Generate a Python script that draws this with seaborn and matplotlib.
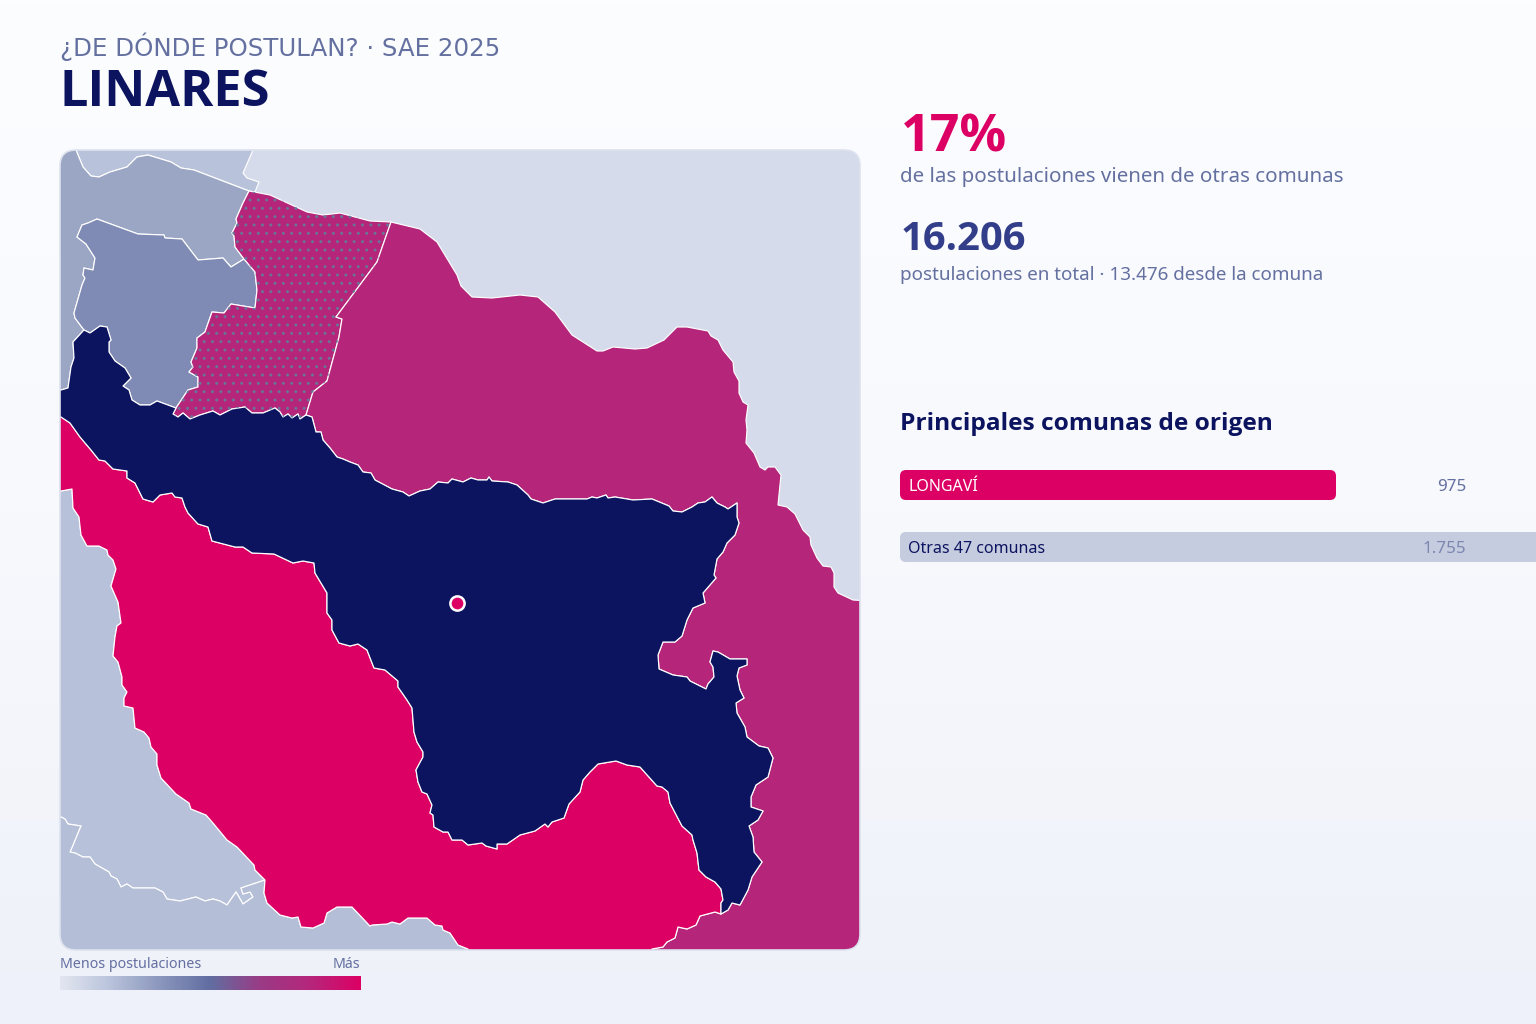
import numpy as np
import seaborn as sns
import matplotlib.pyplot as plt
from matplotlib.patches import FancyBboxPatch, Polygon

# figures from the right hand panel
origen_labels = ['LONGAVÍ', 'Otras 47 comunas']
origen_values = [975, 1755]
origen_colors = ['#DC0064', '#C6CCDF']
origen_text = ['#FFFFFF', '#0C1460']
value_text = ['#6470A0', '#7C87B0']
legend_stops = ['#E2E5F0', '#B8C2DA', '#8A96BC', '#616DA0', '#9A3A85', '#B5267B', '#DC0064']

# comuna boundaries in map pixels, shared edges are only typed once
a_b = [(76, 150), (83, 167), (91, 176), (99, 177), (110, 172), (127, 167), (137, 157), (148, 155),
       (171, 162), (181, 168), (194, 170), (249, 191)]
a_tail = [(255, 192), (259, 182), (247, 178), (243, 173), (253, 150), (257, 140), (76, 140)]
b_d = [(249, 191), (243, 203), (236, 219), (237, 223), (232, 233), (234, 236), (235, 247), (244, 259)]
b_c = [(244, 259), (231, 267), (223, 258), (198, 260), (182, 239), (165, 238), (164, 235), (138, 234),
       (97, 219), (88, 223), (82, 225), (77, 237), (86, 244), (95, 258), (93, 270), (84, 268), (83, 275),
       (85, 278), (82, 285), (74, 313), (75, 318), (84, 330)]
b_f = [(84, 330), (73, 342), (74, 358), (71, 367), (68, 388), (61, 390)]
c_d = [(244, 259), (255, 272), (257, 290), (255, 308), (231, 304), (224, 313), (212, 312), (205, 332),
       (197, 338), (197, 348), (191, 362), (193, 367), (189, 372), (198, 377), (198, 387), (188, 390),
       (176, 408)]
c_f = [(176, 408), (157, 401), (150, 405), (140, 405), (132, 400), (129, 390), (123, 386), (131, 378),
       (125, 368), (115, 361), (109, 352), (109, 342), (111, 340), (107, 327), (100, 326), (90, 333),
       (84, 330)]
d_top = [(249, 191), (270, 195), (307, 212), (323, 215), (340, 213), (370, 221), (391, 222)]
d_e = [(391, 222), (377, 262), (336, 317), (342, 319), (339, 337), (327, 381), (313, 392), (306, 415)]
d_f = [(176, 408), (173, 414), (178, 417), (183, 413), (190, 419), (200, 415), (213, 411), (220, 415),
       (232, 409), (245, 407), (252, 413), (263, 413), (275, 408), (280, 412), (283, 417), (288, 414),
       (292, 418), (298, 414), (300, 419), (306, 415)]
e_top = [(391, 222), (420, 229), (437, 242), (457, 275), (461, 286), (472, 297), (492, 298), (520, 295),
         (538, 297), (555, 312), (572, 335), (597, 351), (603, 351), (613, 347), (635, 349), (647, 348),
         (664, 340), (677, 327), (687, 327), (708, 331), (711, 336), (718, 340), (723, 350), (733, 362),
         (734, 372), (739, 381), (739, 393), (743, 402), (748, 405), (746, 420), (747, 430), (746, 443),
         (754, 453), (760, 467), (765, 470), (768, 467), (775, 467), (781, 475), (778, 505), (787, 507),
         (795, 514), (803, 530), (810, 537), (811, 545), (817, 558), (823, 566), (831, 567), (834, 573),
         (834, 587), (838, 593), (853, 600), (870, 601)]
f_east = [(306, 415), (312, 417), (316, 432), (321, 432), (323, 440), (330, 448), (337, 457), (343, 459),
          (350, 462), (358, 465), (363, 472), (371, 473), (375, 480), (392, 489), (403, 492), (409, 496),
          (420, 491), (430, 489), (438, 482), (448, 483), (452, 479), (463, 482), (471, 478), (478, 480),
          (487, 480), (489, 477), (492, 481), (508, 482), (517, 485), (528, 495), (531, 499), (543, 503),
          (555, 499), (587, 499), (592, 497), (597, 498), (606, 495), (608, 498), (615, 497), (633, 500),
          (652, 499), (669, 506), (673, 511), (682, 512), (692, 507), (698, 503), (705, 502), (712, 497),
          (717, 503), (725, 507), (728, 509), (737, 503), (737, 517), (739, 523), (735, 535), (727, 543),
          (723, 552), (717, 559), (714, 575), (716, 578), (703, 593), (705, 603), (693, 608), (687, 620),
          (682, 636), (675, 642), (663, 642), (658, 655), (659, 669), (673, 675), (687, 677), (690, 681),
          (706, 689), (708, 684), (714, 677), (713, 667), (710, 662), (713, 651), (718, 652), (730, 659),
          (747, 659), (747, 665), (739, 668), (737, 676), (740, 690), (744, 698), (736, 703), (737, 713),
          (745, 727), (747, 737), (759, 746), (768, 748), (773, 758), (768, 777), (756, 785), (751, 797),
          (751, 807), (763, 811), (758, 820), (749, 826), (753, 837), (754, 852), (762, 862), (752, 877),
          (748, 890), (740, 905), (732, 903), (728, 910), (721, 914)]
f_g = [(721, 914), (721, 903), (723, 900), (721, 889), (715, 882), (706, 877), (699, 870), (697, 853),
       (693, 840), (692, 835), (682, 826), (670, 803), (668, 792), (662, 787), (657, 786), (640, 767),
       (627, 765), (616, 761), (598, 764), (590, 772), (583, 780), (580, 792), (569, 804), (564, 818),
       (552, 822), (548, 827), (545, 824), (535, 831), (520, 835), (507, 844), (497, 844), (497, 849),
       (486, 846), (482, 843), (468, 845), (462, 840), (452, 840), (448, 832), (443, 832), (434, 827),
       (433, 815), (430, 813), (432, 805), (427, 794), (422, 792), (418, 782), (416, 770), (423, 757),
       (423, 752), (417, 742), (414, 732), (412, 708), (407, 700), (398, 687), (398, 681), (385, 670),
       (374, 668), (367, 650), (358, 644), (350, 646), (339, 643), (332, 630), (332, 620), (327, 613),
       (327, 593), (315, 573), (314, 563), (303, 561), (293, 563), (274, 554), (252, 553), (243, 547),
       (235, 547), (212, 541), (208, 527), (198, 524), (188, 513), (185, 507), (182, 498), (175, 497),
       (172, 493), (160, 495), (153, 502), (143, 499), (135, 483), (127, 478), (127, 471), (113, 469),
       (105, 461), (99, 460), (91, 450), (80, 437), (70, 423), (61, 417)]
e_g = [(721, 914), (715, 912), (700, 916), (696, 925), (687, 929), (678, 927), (675, 938), (667, 942),
       (663, 947), (652, 949), (650, 960)]
g_h = [(61, 491), (72, 489), (73, 508), (79, 517), (81, 535), (87, 546), (99, 546), (107, 550), (108, 555),
       (113, 560), (116, 569), (111, 586), (118, 602), (121, 623), (117, 626), (115, 637), (113, 656),
       (118, 662), (122, 677), (122, 685), (127, 692), (124, 698), (124, 706), (133, 708), (135, 728),
       (144, 732), (149, 738), (151, 747), (157, 754), (157, 765), (161, 778), (176, 794), (189, 803),
       (191, 809), (206, 815), (213, 823), (227, 840), (237, 847), (254, 865), (255, 870), (265, 880)]
g_i = [(265, 880), (264, 893), (267, 903), (280, 915), (292, 918), (298, 917), (301, 927), (313, 928),
       (324, 923), (327, 913), (337, 907), (352, 907), (370, 926), (372, 925), (387, 924), (392, 922),
       (400, 924), (408, 918), (427, 918), (435, 925), (442, 926), (443, 930), (450, 933), (458, 945),
       (468, 949), (470, 960)]
h_i = [(265, 880), (241, 888), (243, 894), (250, 892), (253, 897), (243, 904), (236, 892), (227, 905),
       (220, 901), (213, 899), (205, 901), (196, 897), (180, 901), (167, 899), (163, 892), (155, 888),
       (133, 888), (127, 884), (121, 887), (117, 879), (111, 876), (109, 872), (95, 864), (90, 857),
       (83, 857), (75, 853), (70, 852), (73, 845), (80, 828), (81, 826), (68, 824), (65, 819), (61, 817)]

comunas = [
    ('#B8C2DA', a_b + a_tail),
    ('#9BA5C4', [(50, 140), (76, 140)] + a_b + b_d + b_c + b_f + [(50, 390)]),
    ('#7F8BB4', b_c[::-1] + c_d + c_f),
    ('#B5267B', d_top + d_e + d_f[::-1] + c_d[::-1] + b_d[::-1]),
    ('#B5267B', e_top + [(870, 960)] + e_g[::-1] + f_east[::-1] + d_e[::-1]),
    ('#B7C1DA', [(50, 491)] + g_h + h_i + [(50, 817)]),
    ('#B4BED6', [(50, 817)] + h_i[::-1] + g_i + [(50, 960)]),
    ('#DC0064', f_g + [(50, 417), (50, 491)] + g_h + g_i + e_g[::-1]),
    ('#0C1460', b_f[::-1] + c_f[::-1] + d_f + f_east + f_g + [(50, 417), (50, 390)]),
]
linares_point = ([457], [603])

sns.set_theme(style='white')
plt.rcParams['font.family'] = ['Noto Sans', 'DejaVu Sans']
BOLD = ['Open Sans', 'DejaVu Sans']
W, H = 1536, 1024
fig = plt.figure(figsize=(W / 100, H / 100), dpi=100)


def pixel_axes(left, top, right, bottom):
    return fig.add_axes([left / W, 1 - bottom / H, (right - left) / W, (bottom - top) / H])


# page gradient and all free text go on one full size axes
bg = pixel_axes(0, 0, W, H)
page = sns.blend_palette(['#FCFDFF', '#F8F9FD', '#EEF1F9'], as_cmap=True)
bg.imshow(np.linspace(0, 1, 256)[:, None], cmap=page, aspect='auto', extent=(0, W, H, 0))
bg.set_xlim(0, W)
bg.set_ylim(H, 0)
bg.axis('off')


def label(x, y, s, px, color, weight='normal', ha='left', **kw):
    bg.text(x, y, s, fontsize=px * 0.72, color=color, fontweight=weight, ha=ha, va='baseline', **kw)


label(60, 56, '¿DE DÓNDE POSTULAN? · SAE 2025', 24.5, '#6470A0', family=['DejaVu Sans'])
label(59, 106, 'LINARES', 50.5, '#0C1460', 'bold', family=BOLD)
label(901, 151, '17%', 52, '#DC0064', 'bold', family=BOLD)
label(900, 182, 'de las postulaciones vienen de otras comunas', 20.6, '#6470A0')
label(901, 250, '16.206', 40, '#333E8A', 'bold', family=BOLD)
label(900, 280, 'postulaciones en total · 13.476 desde la comuna', 18.8, '#6470A0')
label(900, 430, 'Principales comunas de origen', 24.5, '#0C1460', 'bold', family=BOLD)
label(60, 968, 'Menos postulaciones', 14.2, '#6470A0')
label(360, 968, 'Más', 14.2, '#6470A0', ha='right')

# map
ax = pixel_axes(60, 150, 860, 950)
ax.set_xlim(60, 860)
ax.set_ylim(950, 150)
ax.axis('off')
ax.set_facecolor('none')
panel = FancyBboxPatch((60, 150), 800, 800, boxstyle='round,pad=0,rounding_size=16', fc='#D5DBEA', ec='none')
ax.add_patch(panel)
for color, ring in comunas:
    poly = Polygon(ring, closed=True, fc=color, ec='white', lw=0.85, joinstyle='round')
    ax.add_patch(poly)
    poly.set_clip_path(panel)

# the dotted texture of the comuna north of Linares
dots = Polygon(comunas[3][1], closed=True, fill=False, ec='#5F7F9C', lw=0, hatch='..', alpha=0.8)
ax.add_patch(dots)
dots.set_clip_path(panel)

ax.add_patch(FancyBboxPatch((60, 150), 800, 800, boxstyle='round,pad=0,rounding_size=16', fc='none',
                            ec='#DDE2EE', lw=1.2, clip_on=False))
sns.scatterplot(x=linares_point[0], y=linares_point[1], s=105, color='#DC0064', edgecolor='white',
                linewidth=1.8, ax=ax, zorder=5)

# bars
bars = pixel_axes(900, 460, W, 572)
sns.barplot(x=origen_values, y=origen_labels, hue=origen_labels, palette=origen_colors, width=30 / 62,
            saturation=1, legend=False, orient='h', ax=bars)
px_per_unit = 436 / origen_values[0]
bars.set_xlim(0, (W - 900) / px_per_unit)
bars.set_ylim(25 / 62 + 1, -25 / 62)
bars.axis('off')
for bar in list(bars.patches):
    x, y, w, h = bar.get_x(), bar.get_y(), bar.get_width(), bar.get_height()
    if w == 0:
        continue
    rounded = FancyBboxPatch((x, y), w, h, boxstyle=f'round,pad=0,rounding_size={6 / px_per_unit}',
                             mutation_aspect=px_per_unit / 62, fc=bar.get_facecolor(), ec='none')
    bars.add_patch(rounded)
    bar.set_visible(False)
for i, (name, v) in enumerate(zip(origen_labels, origen_values)):
    bars.text(8 / px_per_unit, i, name, color=origen_text[i], fontsize=16 * 0.72, va='center_baseline')
    bars.text(566 / px_per_unit, i, f'{v:,}'.replace(',', '.'), color=value_text[i], fontsize=17 * 0.72,
              ha='right', va='center_baseline')

# colour legend
leg = pixel_axes(60, 976, 361, 990)
sns.heatmap(np.linspace(0, 1, 300)[None, :], cmap=sns.blend_palette(legend_stops, as_cmap=True), cbar=False,
            xticklabels=False, yticklabels=False, ax=leg)

fig.savefig('out.png', dpi=100)
